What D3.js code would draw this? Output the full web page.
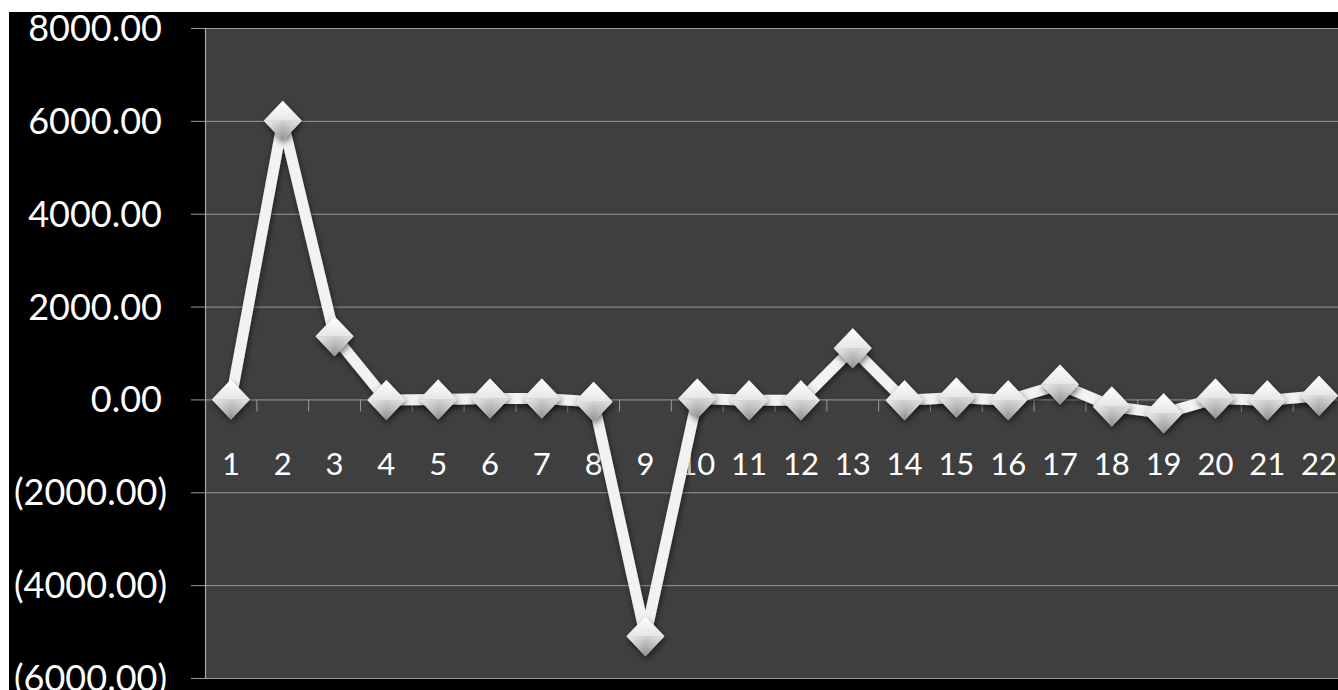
<!DOCTYPE html>
<html>
<head>
<meta charset="utf-8">
<script src="https://cdn.jsdelivr.net/npm/d3@7"></script>
<style>
  html, body { margin: 0; padding: 0; background: #ffffff; overflow: hidden; }
  svg { display: block; }
</style>
</head>
<body>
<svg id="chart" width="1338" height="690"></svg>
<script>
// ---- data ----
const categories = ["1","2","3","4","5","6","7","8","9","10","11","12","13","14","15","16","17","18","19","20","21","22"];
const values = [0, 6000, 1360, -10, 0, 20, 20, -50, -5100, 20, -20, -20, 1100, -20, 40, -20, 320, -150, -300, 20, -20, 80];
const yTicks = [-6000, -4000, -2000, 0, 2000, 4000, 6000, 8000];

// ---- layout ----
const W = 1338, H = 690;
const plot = { left: 205, top: 28, bottom: 678, right: 1345 };

const svg = d3.select("#chart");

// defs: gradients and shadow
const defs = svg.append("defs");
const gTop = defs.append("linearGradient").attr("id", "gTop").attr("x1", 0).attr("y1", 0).attr("x2", 0).attr("y2", 1);
gTop.append("stop").attr("offset", "0%").attr("stop-color", "#ffffff");
gTop.append("stop").attr("offset", "100%").attr("stop-color", "#e6e6e6");
const gBot = defs.append("linearGradient").attr("id", "gBot").attr("x1", 0).attr("y1", 0).attr("x2", 0).attr("y2", 1);
gBot.append("stop").attr("offset", "0%").attr("stop-color", "#d2d2d2");
gBot.append("stop").attr("offset", "100%").attr("stop-color", "#8e8e8e");
const gSide = defs.append("linearGradient").attr("id", "gSide").attr("x1", 0).attr("y1", 0).attr("x2", 1).attr("y2", 0);
gSide.append("stop").attr("offset", "0%").attr("stop-color", "#ffffff").attr("stop-opacity", 0.55);
gSide.append("stop").attr("offset", "50%").attr("stop-color", "#ffffff").attr("stop-opacity", 0);
gSide.append("stop").attr("offset", "100%").attr("stop-color", "#ffffff").attr("stop-opacity", 0.35);
const shadow = defs.append("filter").attr("id", "shadow").attr("x", "-30%").attr("y", "-30%").attr("width", "160%").attr("height", "160%");
shadow.append("feDropShadow").attr("dx", 1).attr("dy", 3).attr("stdDeviation", 3).attr("flood-color", "#000").attr("flood-opacity", 0.55);

// background
svg.append("rect").attr("x", 9).attr("y", 12).attr("width", W - 9).attr("height", H - 12).attr("fill", "#000000");

// scales
const x = d3.scaleBand().domain(categories).range([plot.left, plot.right]).padding(0);
const y = d3.scaleLinear().domain([-6000, 8000]).range([plot.bottom, plot.top]);

// plot area
svg.append("rect")
  .attr("x", plot.left).attr("y", plot.top)
  .attr("width", plot.right - plot.left).attr("height", plot.bottom - plot.top)
  .attr("fill", "#3f3f3f");

// gridlines + y ticks
const yAxis = d3.axisLeft(y)
  .tickValues(yTicks)
  .tickSize(-(plot.right - plot.left))
  .tickFormat(() => "");
const gy = svg.append("g").attr("transform", `translate(${plot.left},0)`).call(yAxis);
gy.select(".domain").remove();
gy.selectAll(".tick line").attr("stroke", "#9a9a9a").attr("stroke-width", 1).attr("x1", -14);

// left axis line
svg.append("line")
  .attr("x1", plot.left + 0.5).attr("x2", plot.left + 0.5)
  .attr("y1", plot.top).attr("y2", plot.bottom)
  .attr("stroke", "#a8a8a8").attr("stroke-width", 1.2);

// y labels (accounting format)
const fmt = d3.format(".2f");
svg.append("g").selectAll("text")
  .data(yTicks)
  .join("text")
  .attr("x", d => d < 0 ? 167 : 162)
  .attr("y", d => y(d))
  .attr("dy", "0.36em")
  .attr("text-anchor", "end")
  .attr("fill", "#ffffff")
  .attr("font-family", "Lato, 'Open Sans', sans-serif")
  .attr("font-size", 36)
  .text(d => d < 0 ? "(" + fmt(-d) + ")" : fmt(d));

// x axis ticks at zero line (category boundaries)
const bounds = categories.map(c => x(c));
svg.append("g").selectAll("line")
  .data(bounds.slice(1))
  .join("line")
  .attr("x1", d => d).attr("x2", d => d)
  .attr("y1", y(0)).attr("y2", y(0) + 12)
  .attr("stroke", "#9a9a9a").attr("stroke-width", 1);

// x labels
svg.append("g").selectAll("text")
  .data(categories)
  .join("text")
  .attr("x", d => x(d) + x.bandwidth() / 2)
  .attr("y", 475)
  .attr("text-anchor", "middle")
  .attr("fill", "#ffffff")
  .attr("font-family", "Lato, 'Open Sans', sans-serif")
  .attr("font-size", 31)
  .text(d => d);

// line
const cx = (d, i) => x(categories[i]) + x.bandwidth() / 2;
const line = d3.line().x(cx).y(d => y(d));
svg.append("path")
  .datum(values)
  .attr("d", line)
  .attr("fill", "none")
  .attr("stroke", "#f2f2f2")
  .attr("stroke-width", 11)
  .attr("stroke-linejoin", "round")
  .attr("filter", "url(#shadow)");

// markers (diamonds with shaded halves)
const hw = 19, hh = 20;
const upperTri = d3.path(); upperTri.moveTo(-hw, 0); upperTri.lineTo(0, -hh); upperTri.lineTo(hw, 0); upperTri.closePath();
const lowerTri = d3.path(); lowerTri.moveTo(-hw, 0); lowerTri.lineTo(hw, 0); lowerTri.lineTo(0, hh); lowerTri.closePath();
const fullDia = d3.path(); fullDia.moveTo(-hw, 0); fullDia.lineTo(0, -hh); fullDia.lineTo(hw, 0); fullDia.lineTo(0, hh); fullDia.closePath();

const mk = svg.append("g").selectAll("g")
  .data(values)
  .join("g")
  .attr("transform", (d, i) => `translate(${cx(d, i)},${y(d)})`);
mk.append("path").attr("d", fullDia.toString()).attr("fill", "#bdbdbd").attr("filter", "url(#shadow)");
mk.append("path").attr("d", upperTri.toString()).attr("fill", "url(#gTop)");
mk.append("path").attr("d", lowerTri.toString()).attr("fill", "url(#gBot)");
mk.append("path").attr("d", lowerTri.toString()).attr("fill", "url(#gSide)");
</script>
</body>
</html>
